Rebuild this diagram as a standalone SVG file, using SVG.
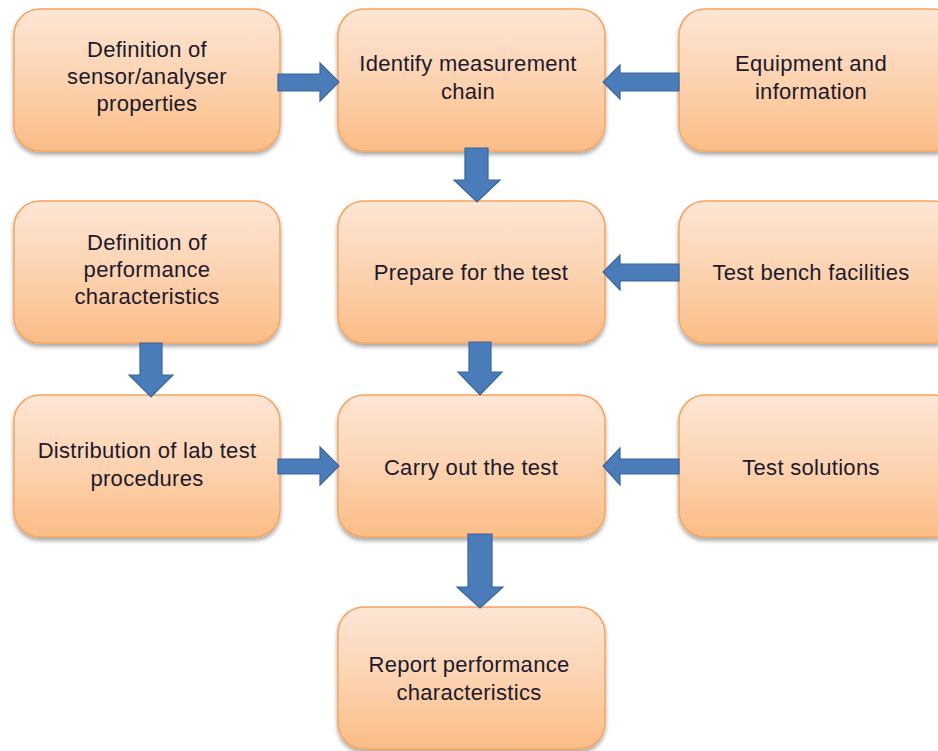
<svg xmlns="http://www.w3.org/2000/svg" width="938" height="751" viewBox="0 0 938 751">
<defs>
<linearGradient id="g" x1="0" y1="0" x2="0" y2="1">
<stop offset="0" stop-color="#fde6d5"/>
<stop offset="0.5" stop-color="#fcd3b1"/>
<stop offset="1" stop-color="#fbbd86"/>
</linearGradient>
<filter id="sh" x="-10%" y="-10%" width="120%" height="130%">
<feGaussianBlur in="SourceAlpha" stdDeviation="2"/>
<feOffset dx="0" dy="3" result="b"/>
<feComponentTransfer><feFuncA type="linear" slope="0.35"/></feComponentTransfer>
<feMerge><feMergeNode/><feMergeNode in="SourceGraphic"/></feMerge>
</filter>
</defs>
<style>
.box{fill:url(#g);stroke:#f5a561;stroke-width:1.5;filter:url(#sh)}
.t{font-family:"Liberation Sans",Arial,sans-serif;font-size:22px;fill:#1c1a2c;text-anchor:middle;letter-spacing:0.3px}
.ar{fill:#4a7cb9;stroke:#3a659c;stroke-width:1.2}
</style>
<rect width="938" height="751" fill="#ffffff"/>

<g id="n1"><rect class="box" x="14" y="9" width="266" height="142" rx="26"/>
<text class="t" x="147" y="57">Definition of</text><text class="t" x="147" y="84">sensor/analyser</text><text class="t" x="147" y="111">properties</text></g>
<g id="n2"><rect class="box" x="338" y="9" width="267" height="142" rx="26"/>
<text class="t" x="468" y="71">Identify measurement</text><text class="t" x="468" y="99">chain</text></g>
<g id="n3"><rect class="box" x="679" y="9" width="280" height="142" rx="26"/>
<text class="t" x="811" y="71">Equipment and</text><text class="t" x="811" y="99">information</text></g>

<g id="n4"><rect class="box" x="14" y="201" width="266" height="142" rx="26"/>
<text class="t" x="147" y="250">Definition of</text><text class="t" x="147" y="277">performance</text><text class="t" x="147" y="304">characteristics</text></g>
<g id="n5"><rect class="box" x="338" y="201" width="267" height="142" rx="26"/>
<text class="t" x="471" y="280">Prepare for the test</text></g>
<g id="n6"><rect class="box" x="679" y="201" width="280" height="142" rx="26"/>
<text class="t" x="811" y="280">Test bench facilities</text></g>

<g id="n7"><rect class="box" x="14" y="395" width="266" height="142" rx="26"/>
<text class="t" x="147" y="458">Distribution of lab test</text><text class="t" x="147" y="486">procedures</text></g>
<g id="n8"><rect class="box" x="338" y="395" width="267" height="142" rx="26"/>
<text class="t" x="471" y="475">Carry out the test</text></g>
<g id="n9"><rect class="box" x="679" y="395" width="280" height="142" rx="26"/>
<text class="t" x="811" y="475">Test solutions</text></g>

<g id="n10"><rect class="box" x="338" y="607" width="267" height="142" rx="26"/>
<text class="t" x="469" y="672">Report performance</text><text class="t" x="469" y="700">characteristics</text></g>

<g id="connectors">
<!-- n1 -> n2 -->
<polygon class="ar" points="278,74 320,74 320,63 339,82 320,101 320,91 278,91"/>
<!-- n3 -> n2 -->
<polygon class="ar" points="679,73 620,73 620,65 603,82 620,99 620,91 679,91"/>
<!-- n2 -> n5 -->
<polygon class="ar" points="465,148 488,148 488,180 500,180 477,202 454,180 465,180"/>
<!-- n6 -> n5 -->
<polygon class="ar" points="679,264 620,264 620,255 603,272 620,290 620,281 679,281"/>
<!-- n4 -> n7 -->
<polygon class="ar" points="140,343 162,343 162,375 173,375 151,397 129,375 140,375"/>
<!-- n5 -> n8 -->
<polygon class="ar" points="469,342 491,342 491,372 502,372 480,395 458,372 469,372"/>
<!-- n7 -> n8 -->
<polygon class="ar" points="278,459 320,459 320,447 339,466 320,485 320,474 278,474"/>
<!-- n9 -> n8 -->
<polygon class="ar" points="679,459 620,459 620,448 603,466 620,485 620,474 679,474"/>
<!-- n8 -> n10 -->
<polygon class="ar" points="468,534 492,534 492,587 503,587 480,608 457,587 468,587"/>
</g>
</svg>
